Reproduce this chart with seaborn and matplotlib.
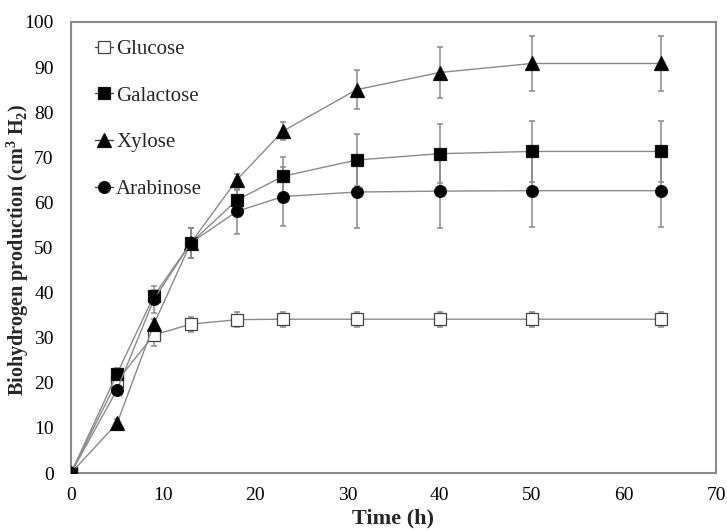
import matplotlib
matplotlib.use("Agg")
import matplotlib.pyplot as plt
import seaborn as sns
import pandas as pd

# Sampling times (h)
time_h = [0, 5, 9, 13, 18, 23, 31, 40, 50, 64]

# Cumulative biohydrogen production (cm3 H2) per sugar
glucose = [0, 20.4, 30.6, 33.0, 34.0, 34.1, 34.1, 34.1, 34.1, 34.1]
galactose = [0, 22.0, 39.3, 51.0, 60.5, 65.8, 69.4, 70.8, 71.3, 71.3]
xylose = [0, 11.0, 33.0, 51.0, 65.0, 75.8, 85.0, 88.8, 90.8, 90.8]
arabinose = [0, 18.5, 38.5, 51.0, 58.0, 61.3, 62.3, 62.5, 62.6, 62.6]

# Standard deviations
glucose_err = [0, 1.2, 2.4, 1.7, 1.7, 1.7, 1.7, 1.7, 1.7, 1.7]
galactose_err = [0, 1.2, 1.2, 3.4, 2.2, 4.3, 5.8, 6.6, 6.7, 6.7]
xylose_err = [0, 1.0, 1.2, 3.4, 1.2, 2.0, 4.3, 5.7, 6.1, 6.1]
arabinose_err = [0, 1.2, 3.0, 3.4, 4.9, 6.6, 7.9, 8.1, 8.1, 8.1]

labels = ["Glucose", "Galactose", "Xylose", "Arabinose"]

sns.set_theme(style="white")
plt.rcParams["font.family"] = ["Liberation Serif", "DejaVu Serif"]
plt.rcParams["mathtext.fontset"] = "custom"
plt.rcParams["mathtext.rm"] = "Liberation Serif"
plt.rcParams["mathtext.bf"] = "Liberation Serif:bold"

fig = plt.figure(figsize=(7.27, 5.31), dpi=100)
ax = fig.add_axes([71 / 727, 58 / 531, 645 / 727, 451 / 531])

series = [
    (glucose, glucose_err, "s", "white", 8),
    (galactose, galactose_err, "s", "black", 8),
    (xylose, xylose_err, "^", "black", 9.5),
    (arabinose, arabinose_err, "o", "black", 8.5),
]

line_col = "#8a8a8a"
for (vals, errs, mk, face, ms), name in zip(series, labels):
    df = pd.DataFrame({"t": time_h, "v": vals, "e": errs})
    ax.errorbar(df["t"], df["v"], yerr=df["e"], fmt="none", ecolor=line_col,
                elinewidth=1.1, capsize=2.5, capthick=1.1, zorder=2)
    sns.lineplot(data=df, x="t", y="v", ax=ax, color=line_col, linewidth=1.0,
                 marker=mk, markersize=ms, markerfacecolor=face,
                 markeredgecolor="#111111" if face == "black" else "#444444",
                 markeredgewidth=0.9, label=name, zorder=3)

ax.set_xlim(0, 70)
ax.set_ylim(0, 100)
ax.set_xticks(range(0, 71, 10))
ax.set_yticks(range(0, 101, 10))
ax.tick_params(axis="both", length=0, labelsize=14, colors="black")
ax.tick_params(axis="y", pad=12.5)
ax.tick_params(axis="x", pad=10)
for sp in ax.spines.values():
    sp.set_visible(True)
    sp.set_color("#8a8a8a")
    sp.set_linewidth(1.5)

ax.set_xlabel("Time (h)", fontsize=16, fontweight="bold", labelpad=3)
ax.set_ylabel(r"Biohydrogen production (cm$^{\mathbf{3}}$ H$_{\mathbf{2}}$)",
              fontsize=14.5, fontweight="bold")
ax.yaxis.set_label_coords(-0.062, 0.494)

leg = ax.legend(loc="upper left", bbox_to_anchor=(0.025, 0.98), frameon=False,
                fontsize=15, handlelength=0.85, handletextpad=0.15,
                labelspacing=1.3, borderaxespad=0)
for h in leg.legend_handles:
    h.set_color("#444444")
    h.set_linewidth(1.0)

fig.savefig("out.png", dpi=100)
